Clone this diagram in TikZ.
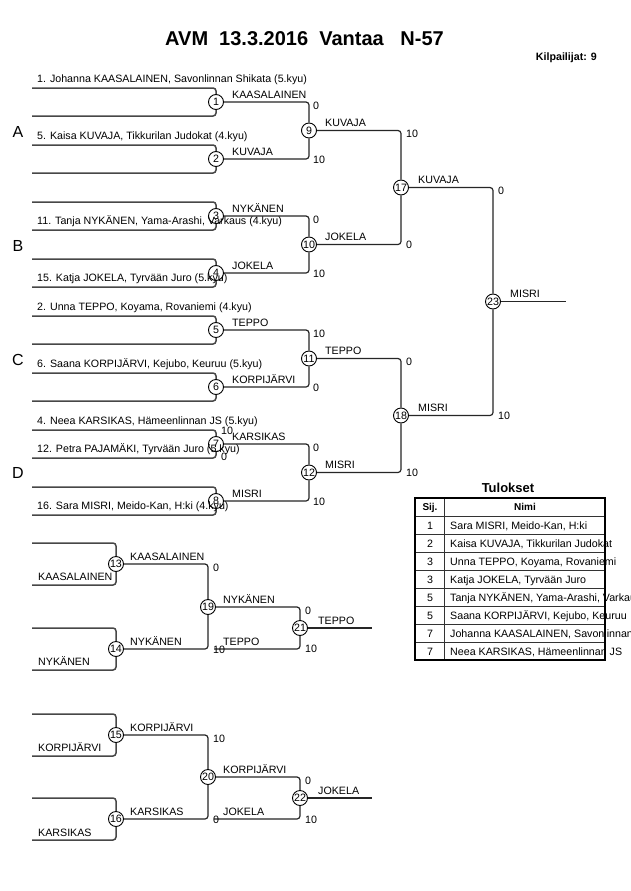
\documentclass[tikz,border=0pt]{standalone}
\usepackage{fontspec}
\setmainfont{Liberation Sans}
\begin{document}
\begin{tikzpicture}[x=1pt,y=-1pt,
  arm/.style={draw=black!72, line width=1.5pt, rounded corners=3pt},
  ln/.style={draw=black!85, line width=1.2pt, rounded corners=3pt},
  mc/.style={circle, draw=black, line width=0.9pt, fill=white, minimum size=15pt, inner sep=0pt, font=\fontsize{10.67}{12}\selectfont},
  txt/.style={inner sep=0pt, anchor=base west, font=\fontsize{10.67}{12}\selectfont},
  grp/.style={inner sep=0pt, anchor=base, font=\fontsize{16}{18}\selectfont},
  tnum/.style={inner sep=0pt, anchor=base, font=\fontsize{10.67}{12}\selectfont},
  thead/.style={inner sep=0pt, anchor=base, font=\fontsize{10}{12}\selectfont\bfseries},
  tbox/.style={draw=black, line width=1.8pt},
  tgrid/.style={draw=black!80, line width=0.8pt}
]
\useasboundingbox (0,0) rectangle (630,891);
\fill[white] (0,0) rectangle (630,891);
\clip (0,0) rectangle (630,891);

% title
\node[inner sep=0pt, anchor=base west, font=\fontsize{20}{24}\selectfont\bfseries] (title) at (165,46) {AVM\hspace{11.1pt}13.3.2016\hspace{11.1pt}Vantaa\hspace{16.7pt}N-57};
\node[inner sep=0pt, anchor=base east, font=\fontsize{10.67}{12}\selectfont\bfseries] (kilp) at (597,61) {Kilpailijat: 9};

% ---------- main bracket: match circles ----------
\node[mc] (m1) at (216,102) {1};
\node[mc] (m2) at (216,159) {2};
\node[mc] (m3) at (216,216) {3};
\node[mc] (m4) at (216,273) {4};
\node[mc] (m5) at (216,330) {5};
\node[mc] (m6) at (216,387) {6};
\node[mc] (m7) at (216,444) {7};
\node[mc] (m8) at (216,501) {8};
\node[mc] (m9) at (309,130.5) {9};
\node[mc] (m10) at (309,244.5) {10};
\node[mc] (m11) at (309,358.5) {11};
\node[mc] (m12) at (309,472.5) {12};
\node[mc] (m17) at (401,187.5) {17};
\node[mc] (m18) at (401,415.5) {18};
\node[mc] (m23) at (493,301.5) {23};

% arm end points
\foreach \i/\c in {1/102,2/159,3/216,4/273,5/330,6/387,7/444,8/501}{
  \coordinate (t\i) at (32,\c-14);
  \coordinate (b\i) at (32,\c+14);
}
\coordinate (f23) at (566,301.5);

% arms
\foreach \i in {1,...,8}{
  \draw[arm] (t\i) -| (m\i);
  \draw[arm] (b\i) -| (m\i);
}
% connectors
\draw[ln] (m1) -| (m9);  \draw[ln] (m2) -| (m9);
\draw[ln] (m3) -| (m10); \draw[ln] (m4) -| (m10);
\draw[ln] (m5) -| (m11); \draw[ln] (m6) -| (m11);
\draw[ln] (m7) -| (m12); \draw[ln] (m8) -| (m12);
\draw[ln] (m9) -| (m17); \draw[ln] (m10) -| (m17);
\draw[ln] (m11) -| (m18); \draw[ln] (m12) -| (m18);
\draw[ln] (m17) -| (m23); \draw[ln] (m18) -| (m23);
\draw[ln] (m23) -- (f23);

% group letters
\node[grp] (gA) at (18,137) {A};
\node[grp] (gB) at (18,251) {B};
\node[grp] (gC) at (18,365) {C};
\node[grp] (gD) at (18,478) {D};

% competitor names
\node[txt] (p1) at (37,82.5) {1. Johanna KAASALAINEN, Savonlinnan Shikata (5.kyu)};
\node[txt] (p5) at (37,139.5) {5. Kaisa KUVAJA, Tikkurilan Judokat (4.kyu)};
\node[txt] (p11) at (37,224.5) {11. Tanja NYKÄNEN, Yama-Arashi, Varkaus (4.kyu)};
\node[txt] (p15) at (37,281.5) {15. Katja JOKELA, Tyrvään Juro (5.kyu)};
\node[txt] (p2) at (37,310.5) {2. Unna TEPPO, Koyama, Rovaniemi (4.kyu)};
\node[txt] (p6) at (37,367.5) {6. Saana KORPIJÄRVI, Kejubo, Keuruu (5.kyu)};
\node[txt] (p4) at (37,424.5) {4. Neea KARSIKAS, Hämeenlinnan JS (5.kyu)};
\node[txt] (p12) at (37,452.5) {12. Petra PAJAMÄKI, Tyrvään Juro (5.kyu)};
\node[txt] (p16) at (37,509.5) {16. Sara MISRI, Meido-Kan, H:ki (4.kyu)};

% winner labels round 1
\node[txt] (w1) at (232,98) {KAASALAINEN};
\node[txt] (w2) at (232,155) {KUVAJA};
\node[txt] (w3) at (232,212) {NYKÄNEN};
\node[txt] (w4) at (232,269) {JOKELA};
\node[txt] (w5) at (232,326) {TEPPO};
\node[txt] (w6) at (232,383) {KORPIJÄRVI};
\node[txt] (w7) at (232,440) {KARSIKAS};
\node[txt] (w8) at (232,497) {MISRI};
\node[txt] (s7a) at (221,434) {10};
\node[txt] (s7b) at (221,460) {0};

% round 2
\node[txt] (w9) at (325,126.5) {KUVAJA};
\node[txt] (w10) at (325,240.5) {JOKELA};
\node[txt] (w11) at (325,354.5) {TEPPO};
\node[txt] (w12) at (325,468.5) {MISRI};
\node[txt] (s9a) at (313,109) {0};
\node[txt] (s9b) at (313,163) {10};
\node[txt] (s10a) at (313,223) {0};
\node[txt] (s10b) at (313,277) {10};
\node[txt] (s11a) at (313,337) {10};
\node[txt] (s11b) at (313,391) {0};
\node[txt] (s12a) at (313,451) {0};
\node[txt] (s12b) at (313,505) {10};

% round 3
\node[txt] (w17) at (418,183.5) {KUVAJA};
\node[txt] (w18) at (418,411.5) {MISRI};
\node[txt] (s17a) at (406,137.5) {10};
\node[txt] (s17b) at (406,248.5) {0};
\node[txt] (s18a) at (406,365.5) {0};
\node[txt] (s18b) at (406,476.5) {10};

% final
\node[txt] (w23) at (510,297.5) {MISRI};
\node[txt] (s23a) at (498,194.5) {0};
\node[txt] (s23b) at (498,419) {10};

% ---------- repechage ----------
\node[mc] (m13) at (116,564) {13};
\node[mc] (m14) at (116,649) {14};
\node[mc] (m19) at (208,607) {19};
\node[mc] (m21) at (300,628) {21};
\node[mc] (m15) at (116,735) {15};
\node[mc] (m16) at (116,819) {16};
\node[mc] (m20) at (208,777) {20};
\node[mc] (m22) at (300,798) {22};

\coordinate (t13) at (32,543); \coordinate (b13) at (32,585);
\coordinate (t14) at (32,628); \coordinate (b14) at (32,670);
\coordinate (t15) at (32,714); \coordinate (b15) at (32,756);
\coordinate (t16) at (32,798); \coordinate (b16) at (32,840);
\coordinate (e21) at (214,649);
\coordinate (e22) at (214,819);
\coordinate (f21) at (372,628);
\coordinate (f22) at (372,798);

\foreach \i in {13,14,15,16}{
  \draw[arm] (t\i) -| (m\i);
  \draw[arm] (b\i) -| (m\i);
}
\draw[ln] (m13) -| (m19); \draw[ln] (m14) -| (m19);
\draw[ln] (m19) -| (m21); \draw[ln] (e21) -| (m21);
\draw[ln] (m21) -- (f21);
\draw[ln] (m15) -| (m20); \draw[ln] (m16) -| (m20);
\draw[ln] (m20) -| (m22); \draw[ln] (e22) -| (m22);
\draw[ln] (m22) -- (f22);

\node[txt] (q13) at (38,580) {KAASALAINEN};
\node[txt] (v13) at (130,560) {KAASALAINEN};
\node[txt] (r13) at (213,571) {0};
\node[txt] (q14) at (38,665) {NYKÄNEN};
\node[txt] (v14) at (130,645) {NYKÄNEN};
\node[txt] (r14) at (213,653) {10};
\node[txt] (v19) at (223,603) {NYKÄNEN};
\node[txt] (r19) at (305,614) {0};
\node[txt] (q21) at (223,645) {TEPPO};
\node[txt] (r21) at (305,652) {10};
\node[txt] (v21) at (318,624) {TEPPO};

\node[txt] (q15) at (38,751) {KORPIJÄRVI};
\node[txt] (v15) at (130,731) {KORPIJÄRVI};
\node[txt] (r15) at (213,742) {10};
\node[txt] (q16) at (38,836) {KARSIKAS};
\node[txt] (v16) at (130,815) {KARSIKAS};
\node[txt] (r16) at (213,823) {0};
\node[txt] (v20) at (223,773) {KORPIJÄRVI};
\node[txt] (r20) at (305,784) {0};
\node[txt] (q22) at (223,815) {JOKELA};
\node[txt] (r22) at (305,823) {10};
\node[txt] (v22) at (318,794) {JOKELA};

% ---------- results table ----------
\node[inner sep=0pt, anchor=base, font=\fontsize{13}{15}\selectfont\bfseries] (tul) at (508,492) {Tulokset};
\node[thead] (hs) at (430,510.5) {Sij.};
\node[thead] (hn) at (525,510.5) {Nimi};
\foreach \k/\r/\n in {0/1/{Sara MISRI, Meido-Kan, H:ki},
                      1/2/{Kaisa KUVAJA, Tikkurilan Judokat},
                      2/3/{Unna TEPPO, Koyama, Rovaniemi},
                      3/3/{Katja JOKELA, Tyrvään Juro},
                      4/5/{Tanja NYKÄNEN, Yama-Arashi, Varkaus},
                      5/5/{Saana KORPIJÄRVI, Kejubo, Keuruu},
                      6/7/{Johanna KAASALAINEN, Savonlinnan Shikata},
                      7/7/{Neea KARSIKAS, Hämeenlinnan JS}}{
  \node[tnum] (rk\k) at (430,529+18*\k) {\r};
  \node[txt] (rn\k) at (450,529+18*\k) {\n};
}
\foreach \k in {1,...,8}{
  \draw[tgrid] (415,498+18*\k) -- (605,498+18*\k);
}
\draw[tgrid] (444,498) -- (444,660);
\draw[tbox] (415,498) rectangle (605,660);
\end{tikzpicture}
\end{document}
